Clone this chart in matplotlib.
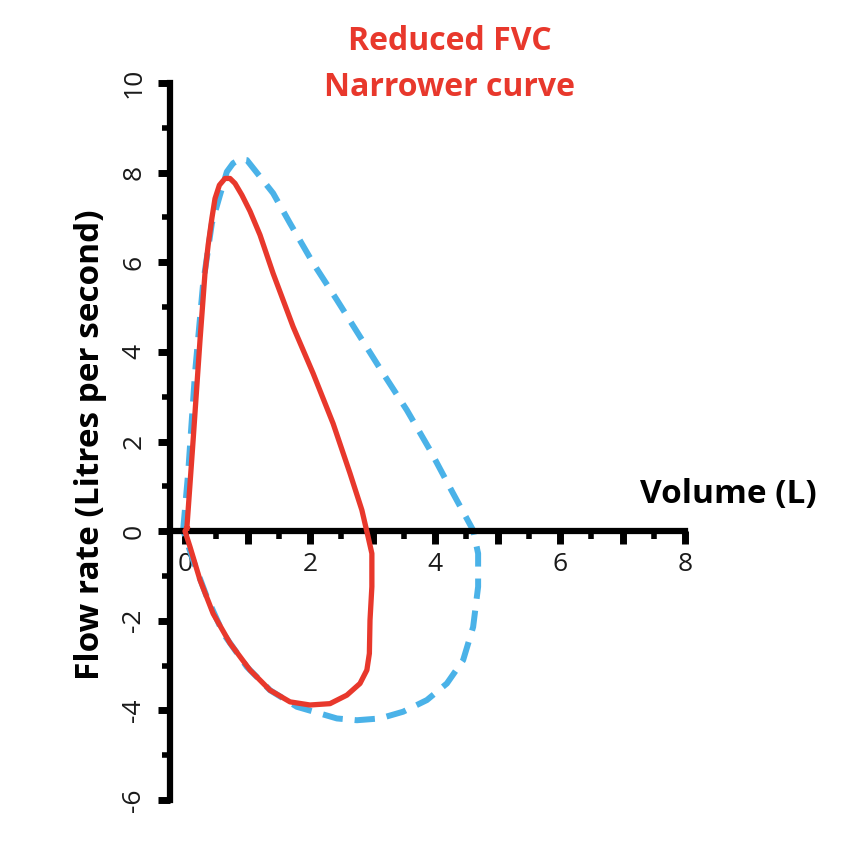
import numpy as np
import matplotlib
matplotlib.use('Agg')
import matplotlib.pyplot as plt
from matplotlib.ticker import MultipleLocator, FixedLocator

plt.rcParams['axes.unicode_minus'] = False

# normal loop (blue dashed): expiration then inspiration
normal_vol = [-0.03, 0.05, 0.16, 0.29, 0.43, 0.56, 0.67, 0.77, 0.88, 0.99, 1.20, 1.41, 1.68,
              2.05, 2.43, 2.80, 3.17, 3.55, 3.92, 4.29, 4.61,
              4.69, 4.69, 4.61, 4.45, 4.19, 3.87, 3.49, 3.12, 2.75, 2.43, 2.16, 1.79, 1.36,
              0.99, 0.61, 0.35, 0.13, -0.03]
normal_flow = [0.02, 1.29, 3.52, 5.53, 6.87, 7.50, 8.02, 8.21, 8.30, 8.28, 7.91, 7.54, 6.87,
               5.98, 5.16, 4.34, 3.52, 2.70, 1.81, 0.84, 0.02,
               -0.50, -1.24, -2.14, -2.88, -3.40, -3.77, -4.03, -4.18, -4.22, -4.18, -4.07,
               -3.92, -3.55, -3.03, -2.28, -1.47, -0.65, 0.02]

# restrictive loop (red): reduced FVC
reduced_vol = [0.03, 0.13, 0.24, 0.32, 0.37, 0.43, 0.48, 0.55, 0.64, 0.72, 0.80, 0.91, 1.04,
               1.20, 1.41, 1.73, 2.05, 2.37, 2.64, 2.83, 2.93,
               2.99, 2.99, 2.96, 2.95, 2.91, 2.80, 2.59, 2.32, 2.00, 1.68, 1.36, 1.04, 0.72,
               0.45, 0.24, 0.08, 0.0, 0.03]
reduced_flow = [0.07, 2.03, 4.26, 5.76, 6.38, 6.98, 7.42, 7.72, 7.87, 7.87, 7.76, 7.50, 7.14,
                6.61, 5.75, 4.56, 3.52, 2.40, 1.29, 0.47, -0.13,
                -0.50, -1.24, -1.99, -2.73, -3.10, -3.40, -3.66, -3.85, -3.88, -3.81, -3.55,
                -3.10, -2.50, -1.84, -1.09, -0.35, 0.0, 0.07]

x_ticks = [0, 2, 4, 6, 8]
y_ticks = [-6, -4, -2, 0, 2, 4, 6, 8, 10]

RED = '#E8382C'
BLUE = '#4AB2E8'

fig = plt.figure(figsize=(8.52, 8.48), dpi=100)
ax = fig.add_axes([170 / 852, 48 / 848, 515 / 852, 717 / 848])

ax.plot(normal_vol, normal_flow, color=BLUE, lw=4.3, dashes=(3.4, 2.0),
        solid_capstyle='butt', dash_joinstyle='round', zorder=2)
ax.plot(reduced_vol, reduced_flow, color=RED, lw=3.8, solid_joinstyle='round', zorder=3)

ax.set_xlim(-0.24, 8)
ax.set_ylim(-6, 10)

for s in ['top', 'right']:
    ax.spines[s].set_visible(False)
ax.spines['bottom'].set_position(('data', 0))
ax.spines['left'].set_linewidth(4.5)
ax.spines['bottom'].set_linewidth(4.5)
ax.spines['left'].set_capstyle('projecting')
ax.spines['bottom'].set_capstyle('projecting')

ax.xaxis.set_major_locator(MultipleLocator(1))
ax.xaxis.set_minor_locator(MultipleLocator(0.5))
ax.yaxis.set_major_locator(FixedLocator(y_ticks))
ax.yaxis.set_minor_locator(MultipleLocator(1))
ax.set_xticklabels([str(int(v)) if int(v) in x_ticks else '' for v in ax.get_xticks()])

ax.tick_params(axis='both', which='major', length=9, width=5, color='black',
               labelsize=19, direction='out')
ax.tick_params(axis='both', which='minor', length=6, width=4, color='black', direction='out')
ax.tick_params(axis='x', which='major', pad=6)
ax.tick_params(axis='y', which='major', pad=8)
for lab in ax.get_yticklabels():
    lab.set_rotation(90)
    lab.set_va('center')
for lab in ax.get_xticklabels() + ax.get_yticklabels():
    lab.set_family('Open Sans')
    lab.set_color('#1a1a1a')

ax.set_ylabel('Flow rate (Litres per second)', fontsize=24, fontweight='bold',
              family='Open Sans')
ax.yaxis.set_label_coords(-0.122, 0.495)
fig.text(728 / 852, 1 - 495 / 848, 'Volume (L)', fontsize=24, fontweight='bold',
         family='Open Sans', ha='center', va='center')

fig.text(450 / 852, 1 - 42 / 848, 'Reduced FVC', fontsize=23, fontweight='bold',
         family='Open Sans', color=RED, ha='center', va='center')
fig.text(450 / 852, 1 - 88 / 848, 'Narrower curve', fontsize=23, fontweight='bold',
         family='Open Sans', color=RED, ha='center', va='center')

fig.savefig('out.png', dpi=100)
